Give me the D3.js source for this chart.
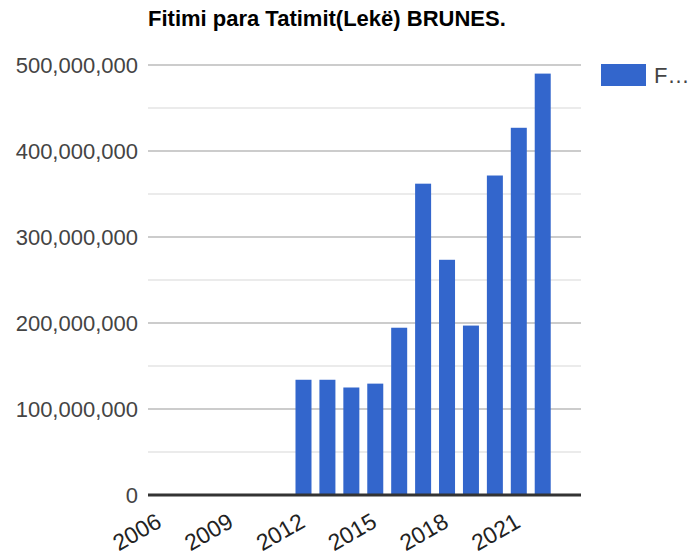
<!DOCTYPE html>
<html lang="en">
    <head>
        <meta charset="utf-8">
        <script src="https://d3js.org/d3.v7.min.js"></script>
        <title>Fitimi para Tatimit</title>
        <style>
            body { margin: 0; background: #fff; }
            svg { font-family: Arial, "Liberation Sans", sans-serif; display: block; }
        </style>
    </head>
    <body>
        <div id="chart"></div>
        <script type="text/javascript">
            const title = "Fitimi para Tatimit(Lekë) BRUNES.";
            const seriesName = "F…";
            const years = [2012, 2013, 2014, 2015, 2016, 2017, 2018, 2019, 2020, 2021, 2022];
            const values = [134000000, 134000000, 125000000, 129500000, 194500000, 362000000,
                            273500000, 197000000, 371500000, 427000000, 490000000];
            const xTicks = [2006, 2009, 2012, 2015, 2018, 2021];
            const yTicks = [0, 100000000, 200000000, 300000000, 400000000, 500000000];
            const yMinor = [50000000, 150000000, 250000000, 350000000, 450000000];

            const W = 689, H = 556;
            const plotLeft = 148, plotRight = 581, plotTop = 65, plotBottom = 495;

            const svg = d3.select("#chart").append("svg")
                .attr("width", W)
                .attr("height", H);

            const x = d3.scaleLinear().domain([2005.5, 2023.6]).range([plotLeft, plotRight]);
            const y = d3.scaleLinear().domain([0, 500000000]).range([plotBottom, plotTop]);
            const fmt = d3.format(",");

            // title
            svg.append("text")
                .attr("x", plotLeft)
                .attr("y", 26)
                .attr("font-size", 22)
                .attr("font-weight", "bold")
                .attr("fill", "#000")
                .text(title);

            // gridlines
            svg.selectAll("line.minor").data(yMinor).enter().append("line")
                .attr("class", "minor")
                .attr("x1", plotLeft).attr("x2", plotRight)
                .attr("y1", d => y(d)).attr("y2", d => y(d))
                .attr("stroke", "#ebebeb").attr("stroke-width", 2);

            svg.selectAll("line.major").data(yTicks.filter(d => d > 0)).enter().append("line")
                .attr("class", "major")
                .attr("x1", plotLeft).attr("x2", plotRight)
                .attr("y1", d => y(d)).attr("y2", d => y(d))
                .attr("stroke", "#cccccc").attr("stroke-width", 2);

            // y labels
            svg.selectAll("text.ylab").data(yTicks).enter().append("text")
                .attr("class", "ylab")
                .attr("x", plotLeft - 10)
                .attr("y", d => y(d))
                .attr("dy", "0.35em")
                .attr("text-anchor", "end")
                .attr("font-size", 22)
                .attr("fill", "#444")
                .text(d => fmt(d));

            // bars
            svg.selectAll("rect.bar").data(years).enter().append("rect")
                .attr("class", "bar")
                .attr("x", d => x(d) - 8)
                .attr("width", 16)
                .attr("y", (d, i) => y(values[i]))
                .attr("height", (d, i) => plotBottom - y(values[i]))
                .attr("fill", "#3366cc");

            // baseline
            svg.append("line")
                .attr("x1", plotLeft).attr("x2", plotRight)
                .attr("y1", plotBottom).attr("y2", plotBottom)
                .attr("stroke", "#333").attr("stroke-width", 3);

            // x labels, slanted
            svg.selectAll("text.xlab").data(xTicks).enter().append("text")
                .attr("class", "xlab")
                .attr("text-anchor", "end")
                .attr("font-size", 23)
                .attr("fill", "#222")
                .attr("transform", d => `translate(${x(d) + 3},526) rotate(-30)`)
                .text(d => d);

            // legend
            svg.append("rect")
                .attr("x", 601).attr("y", 64)
                .attr("width", 45).attr("height", 22)
                .attr("fill", "#3366cc");
            svg.append("text")
                .attr("x", 654).attr("y", 75)
                .attr("dy", "0.35em")
                .attr("font-size", 22)
                .attr("fill", "#444")
                .text(seriesName);
        </script>
    </body>
</html>
